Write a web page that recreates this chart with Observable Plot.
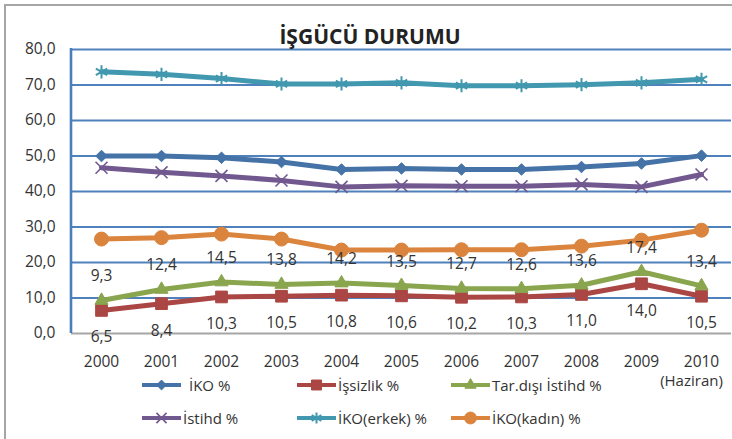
<!DOCTYPE html>
<html><head><meta charset="utf-8">
<script src="https://cdn.jsdelivr.net/npm/d3@7"></script>
<script src="https://cdn.jsdelivr.net/npm/@observablehq/plot@0.6"></script>
<style>
html,body{margin:0;padding:0;background:#fff;}
#chart{position:relative;width:732px;height:439px;overflow:hidden;font-family:"Open Sans",sans-serif;color:#333;}
#frame{position:absolute;left:4px;top:4px;width:800px;height:500px;border-left:2px solid #a6a6a6;border-top:2px solid #a6a6a6;box-sizing:border-box;}
#title{position:absolute;left:0;width:740px;top:23px;line-height:26px;text-align:center;font-weight:700;font-size:21px;letter-spacing:0;color:#222;}
#plot{position:absolute;left:0;top:0;}
.leg{position:absolute;height:20px;display:flex;align-items:center;font-size:15px;line-height:20px;white-space:nowrap;color:#333;}
.leg svg{display:block;margin-right:2px;}
</style></head>
<body>
<div id="chart">
  <div id="frame"></div>
  <div id="plot"></div>
  <div id="title">İŞGÜCÜ DURUMU</div>
</div>
<script>
const years = ["2000","2001","2002","2003","2004","2005","2006","2007","2008","2009","2010"];
const yearNotes = {"2010": "(Haziran)"};
const yTicks = [0,10,20,30,40,50,60,70,80];
const seriesNames = ["İKO %","İşsizlik %","Tar.dışı İstihd %","İstihd %","İKO(erkek) %","İKO(kadın) %"];
const iko      = [50.0,50.0,49.5,48.3,46.2,46.5,46.2,46.2,46.9,47.9,50.1];
const issizlik = [6.5,8.4,10.3,10.5,10.8,10.6,10.2,10.3,11.0,14.0,10.5];
const tarDisi  = [9.3,12.4,14.5,13.8,14.2,13.5,12.7,12.6,13.6,17.4,13.4];
const istihd   = [46.7,45.4,44.4,43.1,41.3,41.6,41.5,41.5,42.0,41.3,44.8];
const ikoErkek = [73.7,73.0,71.8,70.3,70.3,70.6,69.8,69.8,70.1,70.6,71.6];
const ikoKadin = [26.6,27.0,28.0,26.6,23.5,23.5,23.6,23.6,24.6,26.3,29.1];

const seriesValues = [iko, issizlik, tarDisi, istihd, ikoErkek, ikoKadin];
// styles (not data)
const styles = [
  {color:"#4572a7", symbol:"diamond2", r:5.2, filled:true},
  {color:"#aa4643", symbol:"square", r:6.6, filled:true},
  {color:"#89a54e", symbol:"triangle", r:4.9, filled:true},
  {color:"#71588f", symbol:"times", r:5.5, filled:false, sw:1.6},
  {color:"#4198af", symbol:"asterisk", r:6.2, filled:false, sw:2},
  {color:"#db843d", symbol:"circle", r:7, filled:true}
];

const fmt = v => v.toFixed(1).replace(".", ",");
const rows = (vals) => years.map((y,i) => ({year:y, value:vals[i]}));

const marks = [
  Plot.ruleY(yTicks.filter(d => d > 0), {stroke:"#4f81bd", strokeWidth:2}),
  Plot.ruleY([0], {stroke:"#a6a6a6", strokeWidth:2}),
  Plot.axisY({ticks:yTicks, tickSize:0, tickPadding:16, tickFormat:fmt, fontSize:15.5, fill:"#333", label:null}),
  Plot.axisX({tickSize:0, tickPadding:22, fontSize:15.5, fill:"#333", label:null}),
  Plot.text(Object.keys(yearNotes), {x:d => d, y:() => 0, text:d => yearNotes[d], dy:48, dx:-10, fontSize:15, fill:"#333"})
];

seriesValues.forEach((vals, k) => {
  const s = styles[k];
  marks.push(Plot.line(rows(vals), {x:"year", y:"value", stroke:s.color, strokeWidth:5, strokeLinejoin:"round"}));
  marks.push(Plot.dot(rows(vals), {x:"year", y:"value", symbol:s.symbol, r:s.r,
    fill: s.filled ? s.color : "none", stroke:s.color, strokeWidth: s.sw || 1}));
});

marks.push(Plot.text(rows(tarDisi), {x:"year", y:"value", text:d => fmt(d.value), dy:-24, fontSize:15.5, fill:"#333"}));
marks.push(Plot.text(rows(issizlik), {x:"year", y:"value", text:d => fmt(d.value), dy:27, fontSize:15.5, fill:"#333"}));

const plot = Plot.plot({
  width:732, height:395,
  marginLeft:71, marginRight:1, marginTop:49, marginBottom:62,
  x:{type:"point", domain:years, padding:0.5},
  y:{domain:[0,80]},
  style:{fontFamily:"Open Sans, sans-serif", fontSize:"15px", background:"transparent", overflow:"visible"},
  marks
});

// left axis line using the plot's scales
const xs = plot.scale("x"), ys = plot.scale("y");
d3.select(plot).insert("line", "g[aria-label='line']")
  .attr("x1", xs.range[0]).attr("x2", xs.range[0])
  .attr("y1", ys.apply(0)).attr("y2", ys.apply(80) - 1)
  .attr("stroke", "#4a7ebb").attr("stroke-width", 2.6);

document.getElementById("plot").appendChild(plot);

// legend
const chart = document.getElementById("chart");
const legCols = [142, 297, 451];
const legRows = [385, 418];
seriesNames.forEach((name, k) => {
  const s = styles[k];
  const div = document.createElement("div");
  div.className = "leg";
  div.style.left = legCols[k % 3] + "px";
  div.style.top = (legRows[Math.floor(k / 3)] - 10) + "px";
  const svg = d3.create("svg").attr("width", 39).attr("height", 20);
  svg.append("line").attr("x1", 0).attr("x2", 39).attr("y1", 10).attr("y2", 10)
    .attr("stroke", s.color).attr("stroke-width", 4);
  const symMap = {diamond2:d3.symbolDiamond2, square:d3.symbolSquare, triangle:d3.symbolTriangle,
    times:d3.symbolTimes, asterisk:d3.symbolAsterisk, circle:d3.symbolCircle};
  const rr = s.r * 0.85;
  svg.append("path").attr("transform", "translate(19.5,10)")
    .attr("d", d3.symbol(symMap[s.symbol], rr * rr * Math.PI)())
    .attr("fill", s.filled ? s.color : "none").attr("stroke", s.color).attr("stroke-width", s.sw || 1);
  div.appendChild(svg.node());
  const span = document.createElement("span");
  span.textContent = name;
  if (k === 0) span.style.marginLeft = "6px";
  div.appendChild(span);
  chart.appendChild(div);
});
</script>
</body></html>
